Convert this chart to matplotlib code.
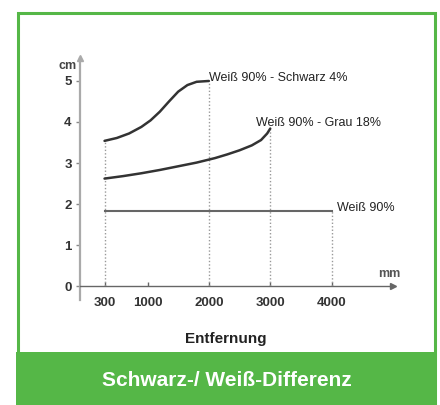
import matplotlib.pyplot as plt
from matplotlib.patches import Rectangle

plt.rcParams['font.family'] = ['Liberation Sans', 'DejaVu Sans']

# Daten
x_schwarz = [300, 500, 700, 900, 1050, 1200, 1350, 1500, 1650, 1800, 2000]
y_schwarz = [3.54, 3.61, 3.72, 3.88, 4.04, 4.25, 4.50, 4.74, 4.90, 4.98, 5.0]

x_grau = [300, 600, 900, 1200, 1500, 1800, 2100, 2300, 2500, 2700, 2850, 2950, 3000]
y_grau = [2.62, 2.68, 2.75, 2.83, 2.92, 3.01, 3.12, 3.21, 3.31, 3.43, 3.56, 3.72, 3.84]

x_weiss = [300, 4000]
y_weiss = [1.82, 1.82]

x_ticks = [300, 1000, 2000, 3000, 4000]
y_ticks = [0, 1, 2, 3, 4, 5]

label_schwarz = "Weiß 90% - Schwarz 4%"
label_grau = "Weiß 90% - Grau 18%"
label_weiss = "Weiß 90%"
titel = "Schwarz-/ Weiß-Differenz"

W, H = 440, 405
fig = plt.figure(figsize=(4.4, 4.05), dpi=100)

# grüner Rahmen und Titelbalken
green = '#55b747'
fig.patches.append(Rectangle((18 / W, 0), 416.5 / W, 1 - 12.5 / H, transform=fig.transFigure,
                             fill=False, edgecolor=green, linewidth=2.2))
fig.patches.append(Rectangle((16 / W, 0), 420 / W, 53 / H, transform=fig.transFigure,
                             facecolor=green, edgecolor='none'))
fig.text(227 / W, 1 - 380 / H, titel, color='white', fontsize=15, fontweight='bold',
         ha='center', va='center')

ax = fig.add_axes([80 / W, 1 - 300 / H, 313 / W, 242 / H])
ax.set_xlim(-100, 5000)
ax.set_ylim(-0.34, 5.56)

# gepunktete Hilfslinien
ax.vlines([300, 2000, 3000, 4000], 0, [y_schwarz[0], y_schwarz[-1], y_grau[-1], y_weiss[-1]],
          colors='#999999', linestyles=(0, (1, 1.5)), linewidth=1)

ax.plot(x_schwarz, y_schwarz, color='#333333', lw=1.8, solid_capstyle='round', solid_joinstyle='round')
ax.plot(x_grau, y_grau, color='#333333', lw=1.8, solid_capstyle='round', solid_joinstyle='round')
ax.plot(x_weiss, y_weiss, color='#666666', lw=1.5)

ax.annotate(label_schwarz, (x_schwarz[-1], y_schwarz[-1]), xytext=(0, 0),
            textcoords='offset points', ha='left', va='baseline', fontsize=9, color='#222222')
ax.annotate(label_grau, (x_grau[-1], y_grau[-1]), xytext=(-10, 1.5),
            textcoords='offset points', ha='left', va='baseline', fontsize=9, color='#222222')
ax.annotate(label_weiss, (x_weiss[-1], y_weiss[-1]), xytext=(3.6, 0),
            textcoords='offset points', ha='left', va='baseline', fontsize=9, color='#222222')

# Achsen
for s in ['top', 'right']:
    ax.spines[s].set_visible(False)
ax.spines['bottom'].set_position(('data', 0))
ax.spines['bottom'].set_color('#666666')
ax.spines['bottom'].set_linewidth(1)
ax.spines['left'].set_color('#aaaaaa')
ax.spines['left'].set_linewidth(1.6)
ax.plot(1, 0, '>', color='#666666', ms=4, transform=ax.get_yaxis_transform(), clip_on=False)
ax.plot(-100, 1, '^', color='#aaaaaa', ms=4, transform=ax.get_xaxis_transform(), clip_on=False)

ax.set_xticks(x_ticks)
ax.set_yticks(y_ticks)
ax.tick_params(axis='x', direction='in', length=3, width=1, color='#666666', pad=8,
               labelsize=9.5, labelcolor='#333333')
ax.tick_params(axis='y', direction='out', length=3, width=1, color='#888888', pad=3,
               labelsize=9.5, labelcolor='#333333')
for lab in ax.get_xticklabels() + ax.get_yticklabels():
    lab.set_fontweight('bold')

fig.text(77 / W, 1 - 66 / H, 'cm', ha='right', va='center', fontsize=9, fontweight='bold', color='#444444')
fig.text(389 / W, 1 - 274 / H, 'mm', ha='center', va='center', fontsize=9, fontweight='bold', color='#555555')
fig.text(226 / W, 1 - 339 / H, 'Entfernung', ha='center', va='center', fontsize=11, fontweight='bold',
         color='#222222')

fig.savefig('out.png', dpi=100)
